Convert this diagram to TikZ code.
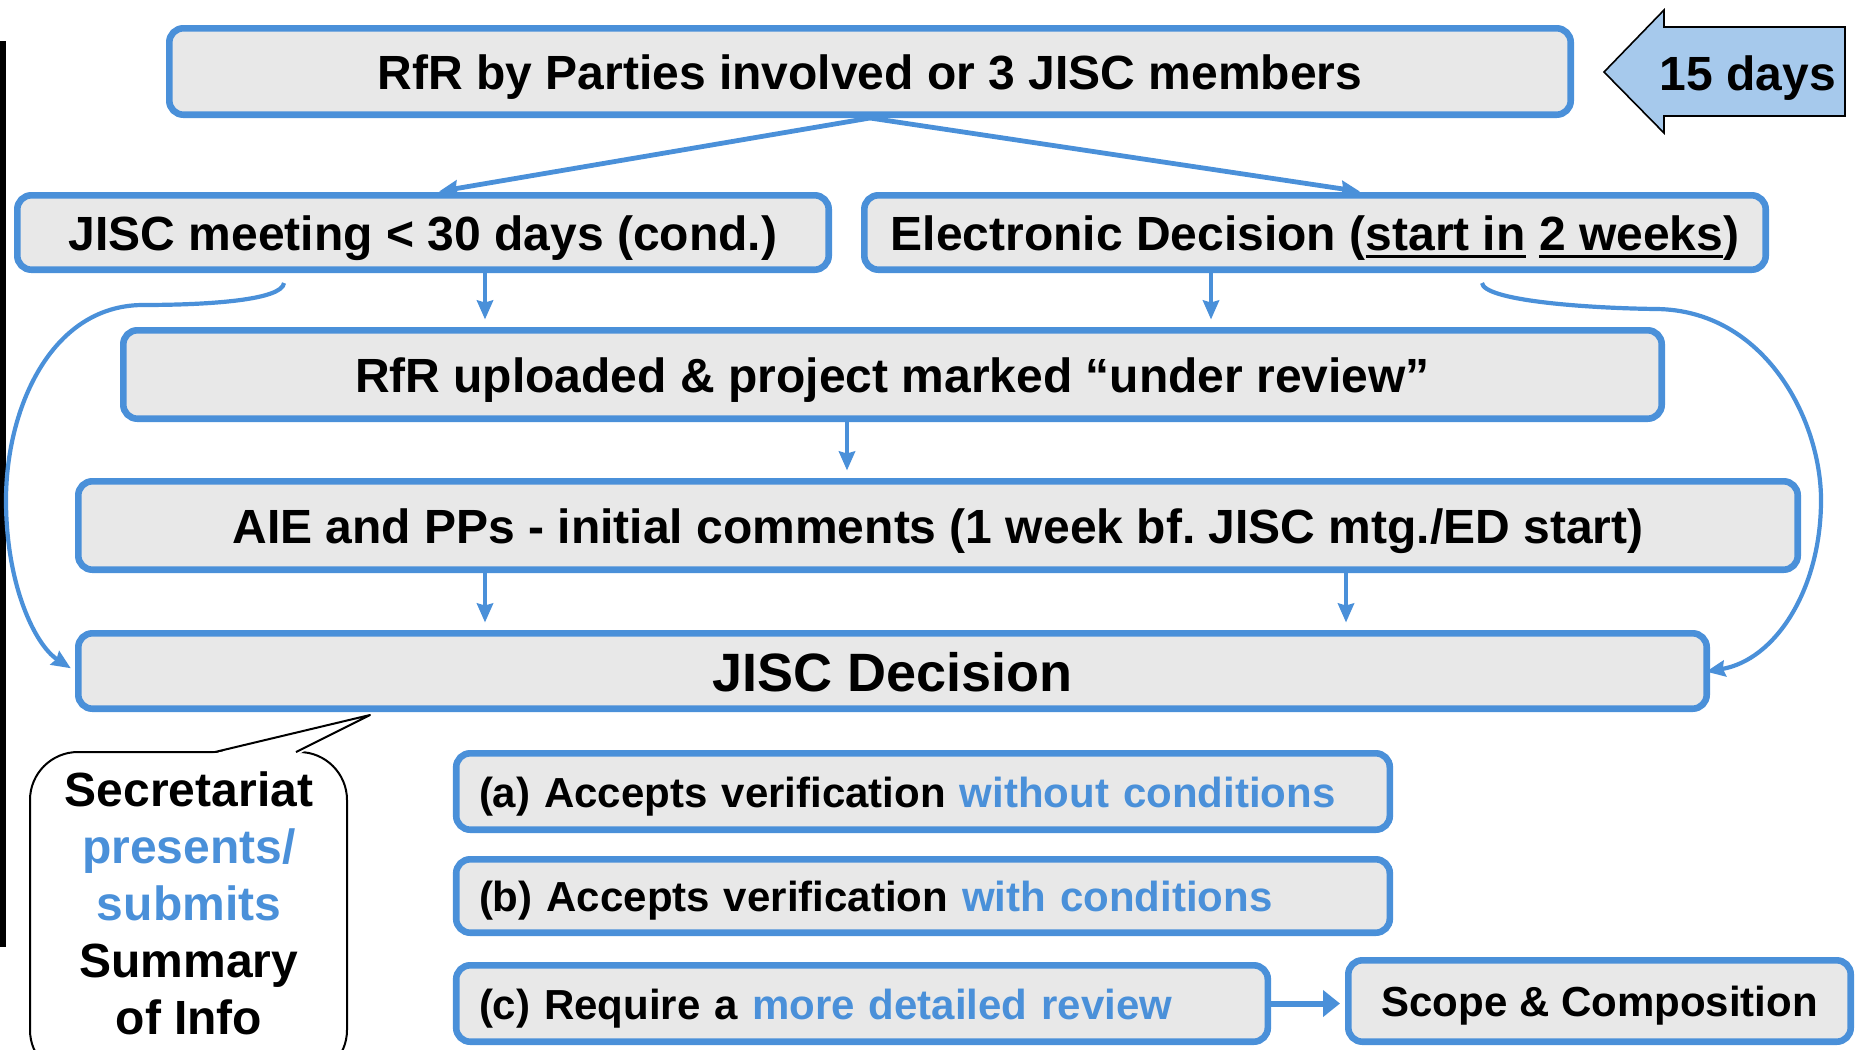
\documentclass[tikz,border=0pt]{standalone}
\usepackage{fontspec}
\setmainfont{Liberation Sans}
\usetikzlibrary{arrows.meta,calc}
\definecolor{bblue}{RGB}{74,144,217}
\definecolor{bgray}{RGB}{232,232,232}
\definecolor{afill}{RGB}{166,201,236}
\newsavebox{\ulbox}
\newcommand\ulin[1]{\sbox{\ulbox}{#1}\rlap{\rule[-3.6pt]{\wd\ulbox}{1.4pt}}\usebox{\ulbox}}
\frenchspacing
\begin{document}
\begin{tikzpicture}[x=0.5pt,y=-0.5pt,
  box/.style={draw=bblue, fill=bgray, line width=3.3pt, rounded corners=7pt, inner sep=0pt,
    font=\bfseries\fontsize{24}{28}\selectfont, text=black, text height=18pt, text depth=0pt},
  opt/.style={box, font=\bfseries\fontsize{21}{25}\selectfont, align=left, inner xsep=11.4pt,
    text height=15.75pt},
  arr/.style={draw=bblue, line width=2.1pt, -{Stealth[length=9.5pt,width=8pt,inset=1pt]}},
  curv/.style={arr, line width=2.1pt},
  ]
\useasboundingbox (0,0) rectangle (1856,1049);
\clip (0,0) rectangle (1856,1049);

% left black bar
\fill[black] (0,41) rectangle (6,947);

% boxes
\node[box, minimum width=700.7pt, minimum height=43.2pt] (b1) at (870,71.5) {RfR by Parties involved or 3 JISC members};
\node[box, minimum width=405.7pt, minimum height=37.2pt] (b2) at (423,232.5) {JISC meeting < 30 days (cond.)};
\node[box, minimum width=450.7pt, minimum height=37.2pt] (b3) at (1315,232.5) {Electronic Decision (\ulin{start in} \ulin{2 weeks})};
\node[box, minimum width=769.2pt, minimum height=44.2pt] (b4) at (892.5,374.5) {RfR uploaded \& project marked “under review”};
\node[box, minimum width=859.7pt, minimum height=44.2pt] (b5) at (938,525.5) {AIE and PPs - initial comments (1 week bf. JISC mtg./ED start)};
\node[box, minimum width=814.2pt, minimum height=37.7pt, font=\bfseries\fontsize{27}{30}\selectfont, text height=20.25pt] (b6) at (892.5,671) {JISC Decision};
\node[opt, text width=444pt, minimum height=38.2pt] (oa) at (923,791.5) {(a) Accepts verification \textcolor{bblue}{without conditions}};
\node[opt, text width=444pt, minimum height=36.7pt] (ob) at (923,896) {(b) Accepts verification \textcolor{bblue}{with conditions}};
\node[opt, text width=383pt, minimum height=38.2pt] (oc) at (862,1003.5) {(c) Require a \textcolor{bblue}{more detailed review}};
\node[box, minimum width=251.2pt, minimum height=40.7pt, font=\bfseries\fontsize{21}{25}\selectfont, text height=15.75pt] (sc) at (1599.5,1001) {Scope \& Composition};

% 15 days arrow
\draw[black, line width=0.8pt, fill=afill] (1604,72) -- (1664,10) -- (1664,27) -- (1845,27) -- (1845,116) -- (1664,116) -- (1664,133) -- cycle;
\node[font=\bfseries\fontsize{24}{28}\selectfont, text height=18pt, text depth=0pt] (days) at (1748,72) {15 days};

% helper x positions
\coordinate (xA) at (436,0);
\coordinate (xB) at (1363,0);
\coordinate (xL) at (485,0);
\coordinate (xR) at (1211,0);
\coordinate (xM) at (847,0);
\coordinate (xR2) at (1346,0);

% fan arrows
\draw[arr, line width=2.4pt, shorten >=1.5pt] (b1.south) -- (b2.north -| xA);
\draw[arr, line width=2.4pt, shorten >=1.5pt] (b1.south) -- (b3.north -| xB);

% vertical arrows
\draw[arr, shorten >=3.75pt] (b2.south -| xL) -- (b4.north -| xL);
\draw[arr, shorten >=3.75pt] (b3.south -| xR) -- (b4.north -| xR);
\draw[arr, shorten >=3.75pt] (b4.south -| xM) -- (b5.north -| xM);
\draw[arr, shorten >=3.75pt] (b5.south -| xL) -- (b6.north -| xL);
\draw[arr, shorten >=3.75pt] (b5.south -| xR2) -- (b6.north -| xR2);

% curved bypass arrows
\coordinate (cl) at (284,283);
\coordinate (cr) at (1482,283);
\draw[curv, shorten >=2.5pt] (cl) .. controls (282,300) and (210,305) .. (142,305)
   .. controls (50,306) and (6,410) .. (6,500)
   .. controls (6,585) and (35,645) .. (b6.west);
\draw[curv, shorten >=-2pt] (cr) .. controls (1484,300) and (1580,308) .. (1656,309)
   .. controls (1765,310) and (1821,420) .. (1821,500)
   .. controls (1821,590) and (1775,660) .. (b6.east);

% (c) -> scope
\draw[draw=bblue, line width=3pt, -{Triangle[length=8.5pt,width=13pt]}, shorten >=2.5pt] (oc.east) -- (oc.east -| sc.west);

% callout
\draw[black, line width=1pt, fill=white, rounded corners=24pt] (30,752) rectangle (347,1078);
\fill[white] (212,754) -- (370,715) -- (299,754) -- cycle;
\draw[black, line width=1pt, line join=round] (215,752) -- (370,715) -- (296,752);
\node[font=\bfseries\fontsize{24}{28.5}\selectfont, align=center] (sec) at (189,903)
  {Secretariat\\\textcolor{bblue}{presents/}\\\textcolor{bblue}{submits}\\Summary\\of Info};
\end{tikzpicture}
\end{document}
